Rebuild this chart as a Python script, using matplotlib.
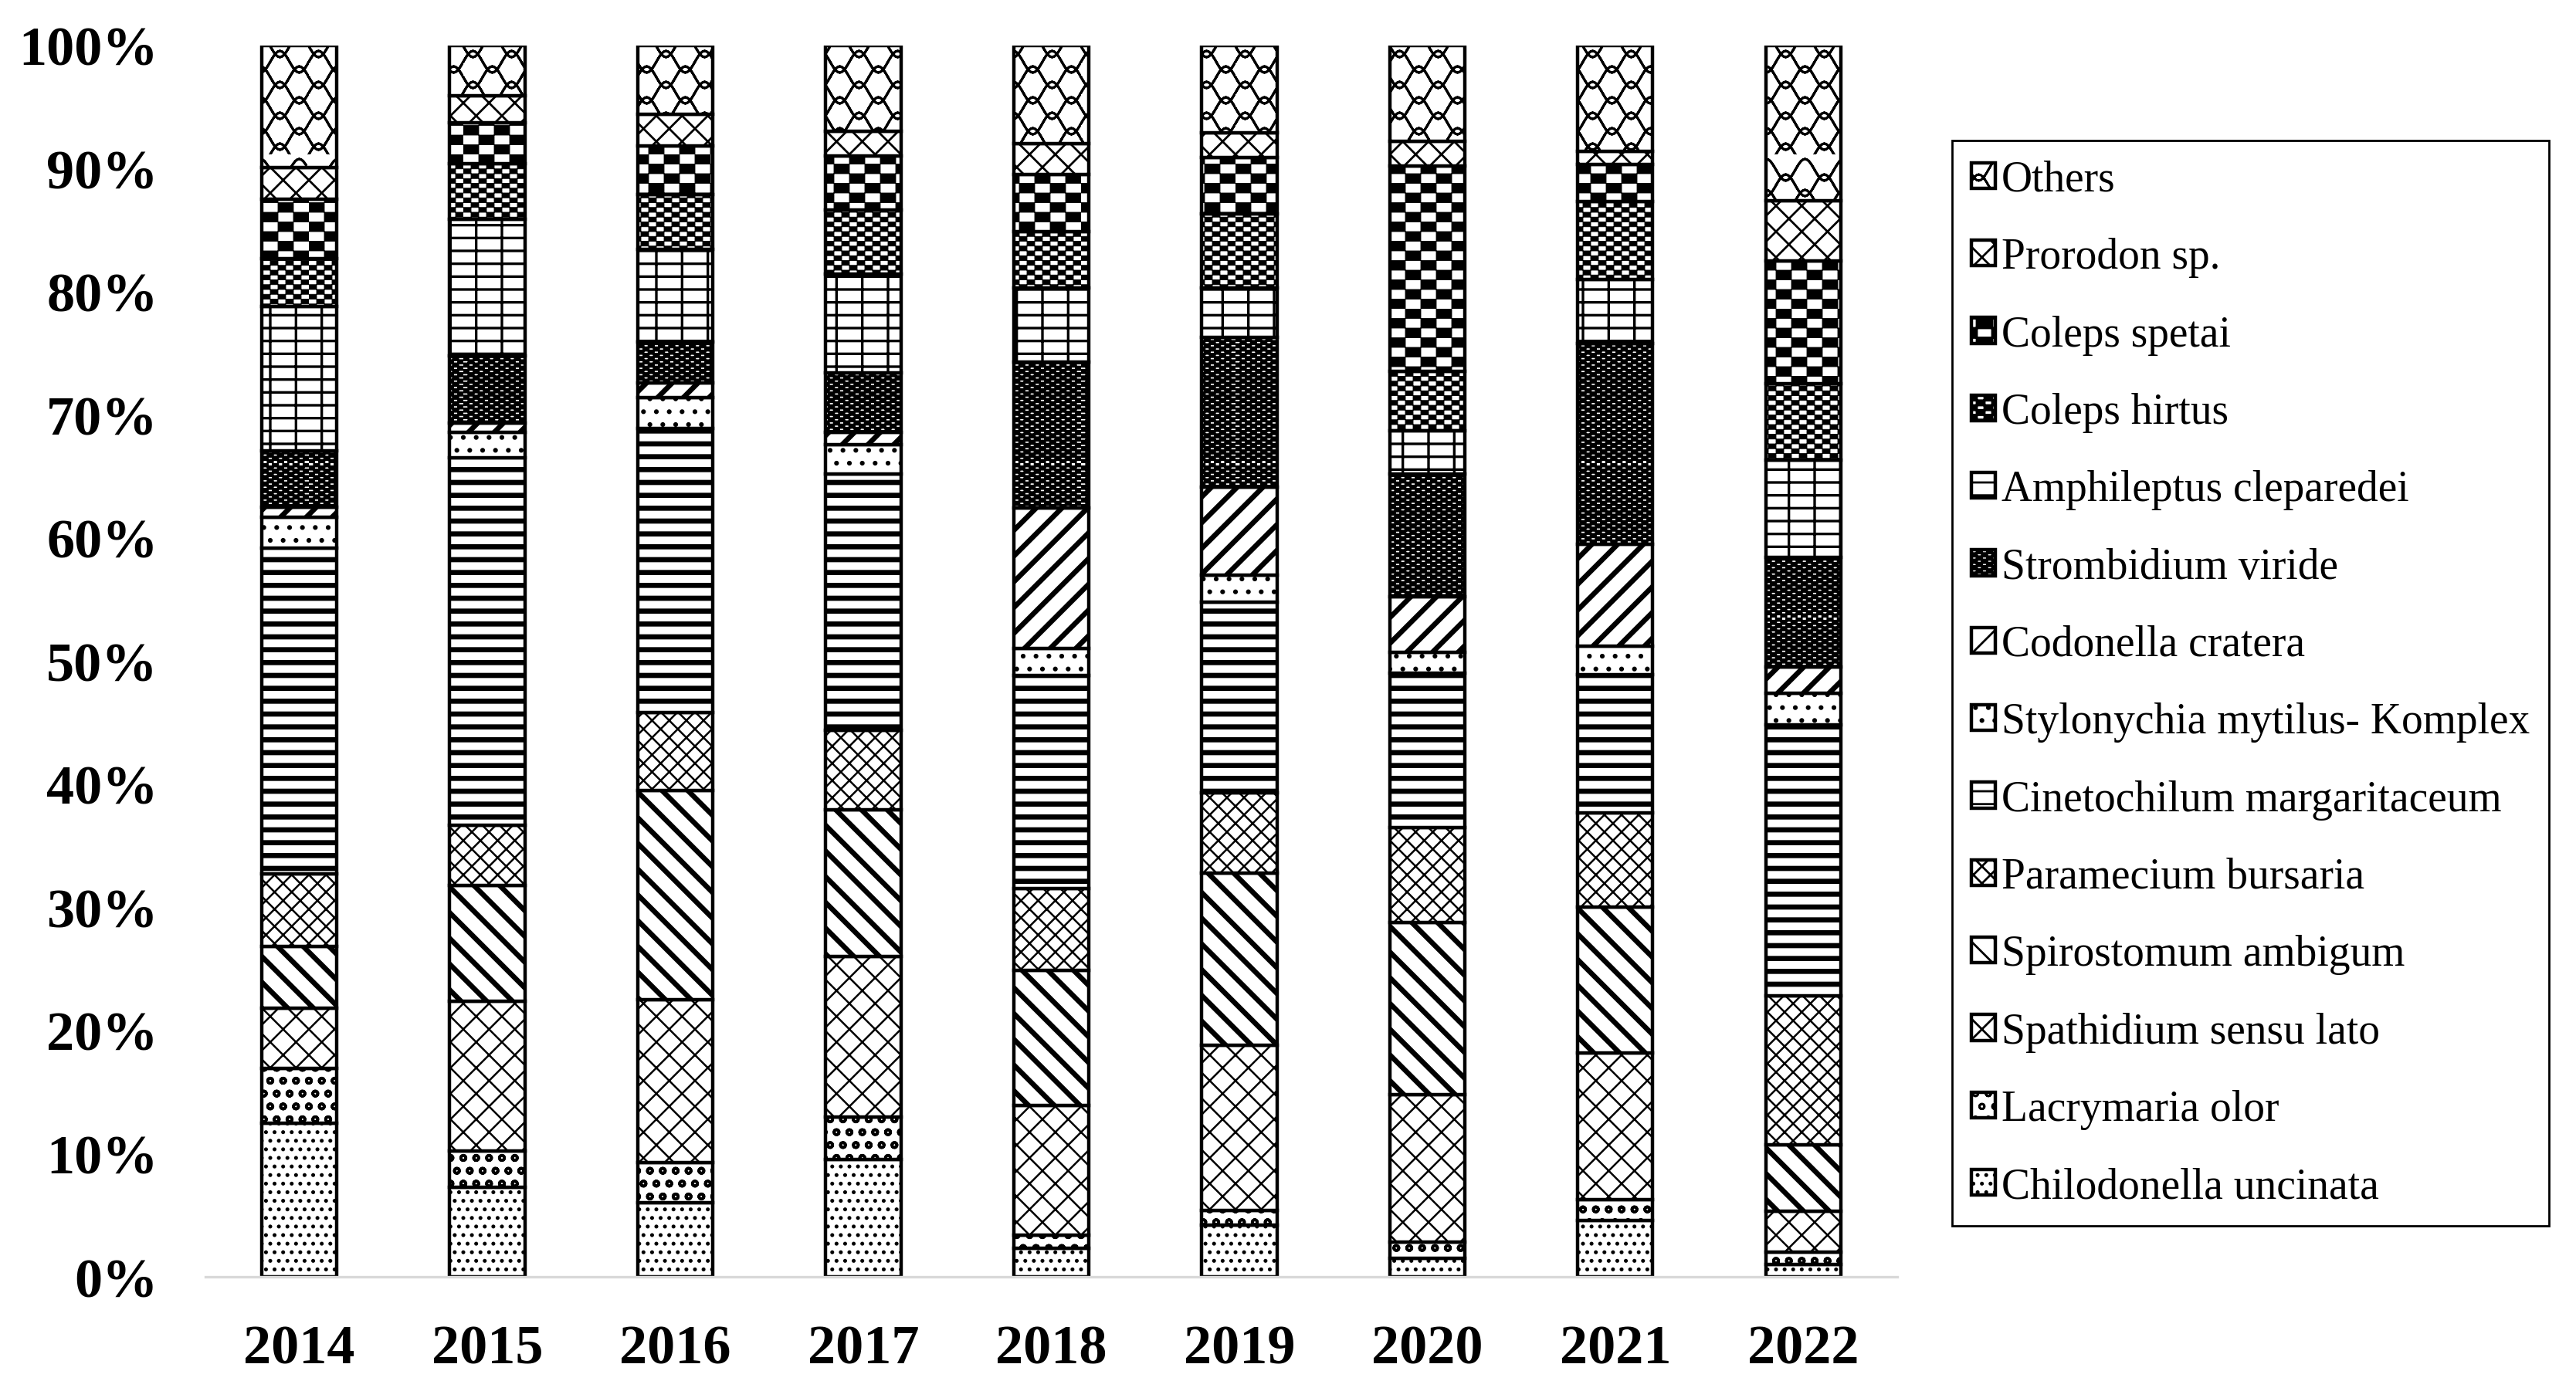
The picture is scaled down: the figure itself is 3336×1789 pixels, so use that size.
import matplotlib
matplotlib.use('Agg')
import matplotlib.pyplot as plt
from matplotlib import hatch as mhatch
from matplotlib.path import Path
from matplotlib.ticker import FuncFormatter
import numpy as np

years = ['2014', '2015', '2016', '2017', '2018', '2019', '2020', '2021', '2022']

# shares in % per year, bottom of the stack first
chilodonella = [12.5, 7.3, 6.0, 9.5, 2.3, 4.2, 1.5, 4.6, 1.0]
lacrymaria = [4.4, 2.9, 3.3, 3.5, 1.1, 1.2, 1.3, 1.7, 1.0]
spathidium = [4.9, 12.2, 13.2, 13.0, 10.5, 13.4, 12.0, 11.9, 3.3]
spirostomum = [5.0, 9.4, 17.0, 11.9, 11.0, 14.0, 14.0, 11.8, 5.4]
paramecium = [5.9, 4.9, 6.3, 6.5, 6.6, 6.5, 7.7, 7.7, 12.1]
cinetochilum = [26.5, 29.8, 23.1, 20.8, 17.3, 15.5, 12.5, 11.2, 22.0]
stylonychia = [2.5, 2.1, 2.5, 2.4, 2.2, 2.2, 1.7, 2.3, 2.6]
codonella = [0.8, 0.7, 1.2, 1.0, 11.4, 7.1, 4.5, 8.3, 2.1]
strombidium = [4.6, 5.5, 3.3, 4.8, 11.9, 12.2, 10.0, 16.3, 8.9]
amphileptus = [11.7, 11.1, 7.5, 8.0, 6.0, 4.0, 3.5, 5.2, 7.9]
coleps_hirtus = [3.9, 4.5, 4.5, 5.2, 4.6, 6.0, 4.8, 6.3, 6.2]
coleps_spetai = [4.8, 3.3, 3.9, 4.4, 4.6, 4.6, 16.7, 3.0, 10.0]
prorodon = [2.6, 2.2, 2.6, 2.0, 2.5, 2.0, 2.0, 1.1, 4.9]
others = [9.9, 4.1, 5.6, 7.0, 8.0, 7.1, 7.8, 8.6, 12.6]

species = ['Chilodonella uncinata', 'Lacrymaria olor', 'Spathidium sensu lato',
           'Spirostomum ambigum', 'Paramecium bursaria',
           'Cinetochilum margaritaceum', 'Stylonychia mytilus- Komplex',
           'Codonella cratera', 'Strombidium viride', 'Amphileptus cleparedei',
           'Coleps hirtus', 'Coleps spetai', 'Prorodon sp.', 'Others']
shares = [chilodonella, lacrymaria, spathidium, spirostomum, paramecium,
          cinetochilum, stylonychia, codonella, strombidium, amphileptus,
          coleps_hirtus, coleps_spetai, prorodon, others]

# (hatch, hatch linewidth) for each species, same order
styles = [('...', 1.0), ('oo', 1.3), ('xx', 0.9), ('\\\\', 2.4), ('xxx', 0.9),
          ('--', 2.4), ('..', 1.0), ('//', 2.4), ('***', 0.9), ('--|', 1.2),
          ('**', 0.3), ('*', 0.3), ('xx', 1.0), ('O', 1.1)]


# '*' is not used as stars here: it draws a black/white checkerboard,
# more '*' means smaller cells
class Checker(mhatch.HatchPatternBase):
    def __init__(self, hatch, density):
        c = hatch.count('*')
        self.nx, self.ny = 10 * c, 16 * c
        self.cells = [(i, j) for i in range(self.nx) for j in range(self.ny)
                      if (i + j) % 2 == 0]
        self.num_vertices = 5 * len(self.cells)

    def set_vertices_and_codes(self, vertices, codes):
        w, h = 1.0 / self.nx, 1.0 / self.ny
        for k, (i, j) in enumerate(self.cells):
            x, y = i * w, j * h
            vertices[5*k:5*k+5] = [(x, y), (x + w, y), (x + w, y + h),
                                   (x, y + h), (x, y)]
            codes[5*k] = Path.MOVETO
            codes[5*k+1:5*k+4] = Path.LINETO
            codes[5*k+4] = Path.CLOSEPOLY


# 'O' draws crossing wavy lines instead of big circles.
# each wave is walked forward and back so the hatch fill adds no area
class Waves(mhatch.HatchPatternBase):
    npts = 81

    def __init__(self, hatch, density):
        self.rows = 5 * hatch.count('O')
        self.num_vertices = 2 * self.rows * 2 * self.npts

    def set_vertices_and_codes(self, vertices, codes):
        t = np.linspace(0, 1, self.npts)
        k = 0
        for r in range(self.rows):
            for sign in (1, -1):
                y0 = (r + 0.5 * (sign < 0)) / self.rows
                y = y0 + sign * 0.35 / self.rows * np.sin(2 * np.pi * 4 * t)
                pts = np.column_stack([t, y])
                line = np.vstack([pts, pts[::-1]])
                vertices[k:k + len(line)] = line
                codes[k] = Path.MOVETO
                codes[k + 1:k + len(line)] = Path.LINETO
                k += len(line)


repl = {mhatch.Stars: Checker, mhatch.LargeCircles: Waves}
mhatch._hatch_types = [repl.get(t, t) for t in mhatch._hatch_types]

plt.rcParams['font.family'] = ['Liberation Serif', 'DejaVu Serif']
plt.rcParams['hatch.color'] = 'black'

fig = plt.figure(figsize=(16.68, 8.95), dpi=200)
ax = fig.add_axes([0.0797, 0.0754, 0.6568, 0.8913])

x = np.arange(len(years))
bottom = np.zeros(len(years))
handles = []
for name, vals, (h, hlw) in zip(species, shares, styles):
    with plt.rc_context({'hatch.linewidth': hlw}):
        bars = ax.bar(x, vals, 0.40, bottom=bottom, color='white',
                      edgecolor='black', linewidth=1.6, hatch=h, label=name)
    bottom += np.array(vals)
    handles.append(bars)

ax.set_xlim(-0.5, len(years) - 0.5)
ax.set_ylim(0, 100)
ax.set_yticks(np.arange(0, 101, 10))
ax.yaxis.set_major_formatter(FuncFormatter(lambda v, p: '%d%%' % v))
ax.set_xticks(x)
ax.set_xticklabels(years)
ax.tick_params(length=0, labelsize=26)
ax.tick_params(axis='y', pad=22)
ax.tick_params(axis='x', pad=22)
for lab in ax.get_xticklabels() + ax.get_yticklabels():
    lab.set_fontweight('bold')
for s in ['left', 'right', 'top']:
    ax.spines[s].set_visible(False)
ax.spines['bottom'].set_color('#d9d9d9')
ax.spines['bottom'].set_linewidth(1.2)

leg = fig.legend(handles[::-1], species[::-1], loc='upper left',
                 bbox_to_anchor=(0.7578, 0.8978), borderaxespad=0,
                 fontsize=20, handlelength=0.55, handleheight=0.55,
                 handletextpad=0.15, labelspacing=0.87, borderpad=0.45,
                 fancybox=False, framealpha=1)
leg.get_frame().set_edgecolor('black')
leg.get_frame().set_linewidth(1.0)

plt.savefig('out.png', dpi=200)
